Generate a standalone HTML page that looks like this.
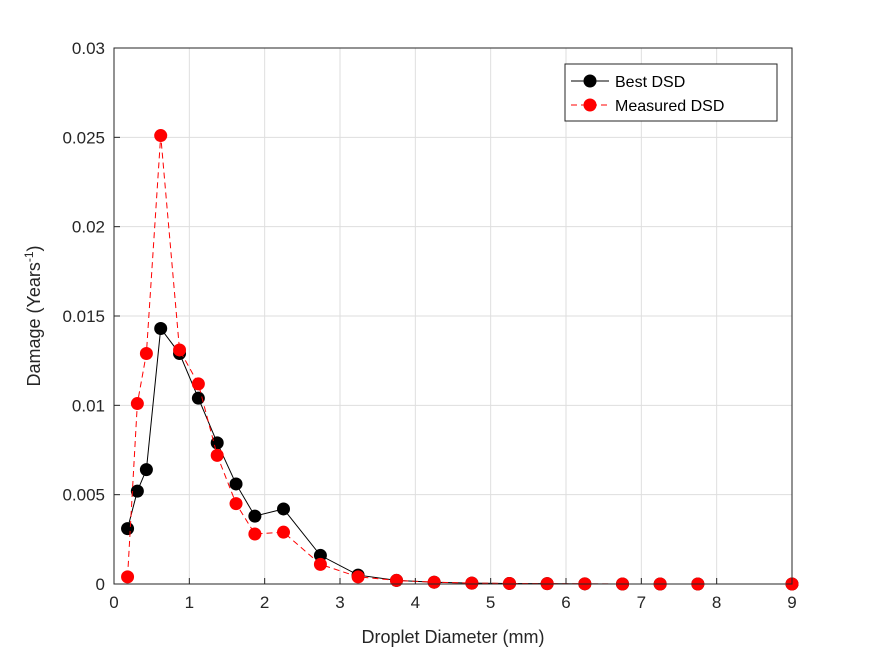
<!DOCTYPE html>
<html><head><meta charset="utf-8"><style>
body{margin:0;background:#fff;}
svg{display:block;font-family:"Liberation Sans",Arial,sans-serif;}
</style></head><body>
<svg id="chart" width="875" height="656">
<rect width="875" height="656" fill="#fff"/>
<g id="grid"></g>
<g id="series"></g>
<rect x="114" y="48" width="678" height="536" fill="none" stroke="#262626" stroke-width="1"/>
<g id="ticks"></g>
<text x="453" y="643" text-anchor="middle" font-size="18" fill="#262626">Droplet Diameter (mm)</text>
<text transform="translate(40,316) rotate(-90)" text-anchor="middle" font-size="18" fill="#262626">Damage (Years<tspan dy="-7" font-size="12">-1</tspan><tspan dy="7">)</tspan></text>
<g>
<rect x="565" y="64" width="212" height="57" fill="#fff" stroke="#262626" stroke-width="1"/>
<g>
<line x1="571" y1="81" x2="609" y2="81" stroke="#000" stroke-width="1"/>
<circle cx="590" cy="81" r="6.5" fill="#000"/>
<text x="615" y="87" font-size="16" fill="#000">Best DSD</text></g>
<g>
<line x1="571" y1="105" x2="609" y2="105" stroke="#f00" stroke-width="1" stroke-dasharray="6,4"/>
<circle cx="590" cy="105" r="6.5" fill="#f00"/>
<text x="615" y="111" font-size="16" fill="#000">Measured DSD</text></g>
</g>
</svg>
<script>
const diameters=[0.18,0.31,0.43,0.62,0.87,1.12,1.37,1.62,1.87,2.25,2.74,3.24,3.75,4.25,4.75,5.25,5.75,6.25,6.75,7.25,7.75,9];
const bestDSD=[0.0031,0.0052,0.0064,0.0143,0.0129,0.0104,0.0079,0.0056,0.0038,0.0042,0.0016,0.0005,0.0002,0.0001,0.00005,0.00003,0.00002,0.00001,0,0,0,0];
const measuredDSD=[0.0004,0.0101,0.0129,0.0251,0.0131,0.0112,0.0072,0.0045,0.0028,0.0029,0.0011,0.0004,0.0002,0.0001,0.00005,0.00003,0.00002,0.00001,0,0,0,0];
const xTicks=[0,1,2,3,4,5,6,7,8,9];
const yTicks=[0,0.005,0.01,0.015,0.02,0.025,0.03];
const yTickLabels=["0","0.005","0.01","0.015","0.02","0.025","0.03"];
const NS="http://www.w3.org/2000/svg";
const X=v=>114+v/9*678, Y=v=>584-v/0.03*536;
function mk(t,a,p){const e=document.createElementNS(NS,t);for(const k in a)e.setAttribute(k,a[k]);p.appendChild(e);return e;}
const g=document.getElementById('grid'),tk=document.getElementById('ticks'),s=document.getElementById('series');
xTicks.forEach(v=>{
 const l=mk('line',{x1:X(v),x2:X(v),y1:48,y2:584,stroke:'#dedede','stroke-width':1},g);
 
 
 mk('line',{x1:X(v),x2:X(v),y1:584,y2:578,stroke:'#262626'},tk);
 const t=mk('text',{x:X(v),y:608,'text-anchor':'middle','font-size':17,fill:'#262626'},tk);t.textContent=v;
 
 
});
yTicks.forEach((v,i)=>{
 const l=mk('line',{x1:114,x2:792,y1:Y(v),y2:Y(v),stroke:'#dedede','stroke-width':1},g);
 
 
 mk('line',{x1:114,x2:120,y1:Y(v),y2:Y(v),stroke:'#262626'},tk);
 const t=mk('text',{x:105,y:Y(v)+6,'text-anchor':'end','font-size':17,fill:'#262626'},tk);t.textContent=yTickLabels[i];
 
 
});
function series(vals,color,dash,name){
 const p=mk('polyline',{points:diameters.map((d,i)=>X(d)+','+Y(vals[i])).join(' '),fill:'none',stroke:color,'stroke-width':1,'stroke-dasharray':dash},s);
 
 
 vals.forEach((v,i)=>{const c=mk('circle',{cx:X(diameters[i]),cy:Y(v),r:6.5,fill:color},s);
  
  });
}
series(bestDSD,'#000','none','best-dsd');
series(measuredDSD,'#f00','6,4','measured-dsd');
</script>
</body></html>
